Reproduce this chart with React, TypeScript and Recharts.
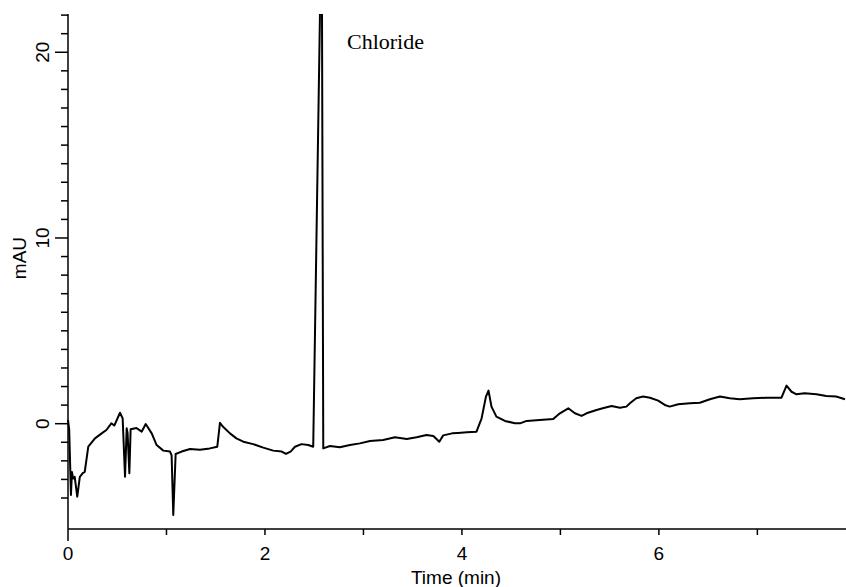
import React from 'react'
import { LineChart, Line, XAxis, YAxis, ReferenceDot } from 'recharts'

// retention time (min) and detector signal (mAU)
const times = [
  0, 0.012, 0.03, 0.04, 0.052, 0.068, 0.094, 0.12, 0.15, 0.17, 0.206, 0.274, 0.342, 0.39, 0.44, 0.47,
  0.528, 0.555, 0.579, 0.596, 0.605, 0.623, 0.636, 0.695, 0.748, 0.789, 0.85, 0.9, 0.968, 1.036, 1.052,
  1.069, 1.093, 1.154, 1.239, 1.34, 1.44, 1.516, 1.543, 1.577, 1.645, 1.71, 1.78, 1.88, 1.983, 2.084,
  2.17, 2.213, 2.26, 2.305, 2.37, 2.44, 2.49, 2.576, 2.592, 2.66, 2.76, 2.863, 2.964, 3.066, 3.2, 3.32,
  3.44, 3.54, 3.64, 3.71, 3.77, 3.81, 3.9, 3.96, 4.05, 4.148, 4.2, 4.244, 4.27, 4.3, 4.35, 4.437, 4.538,
  4.59, 4.657, 4.79, 4.927, 4.995, 5.08, 5.147, 5.215, 5.265, 5.367, 5.43, 5.52, 5.604, 5.67, 5.706,
  5.77, 5.84, 5.91, 5.993, 6.06, 6.11, 6.196, 6.315, 6.416, 6.518, 6.62, 6.72, 6.82, 6.957, 7.09, 7.245,
  7.296, 7.347, 7.398, 7.48, 7.6, 7.7, 7.8, 7.89,
]
const signal = [
  0.2, -0.3, -3.84, -2.6, -2.95, -2.86, -3.93, -2.86, -2.66, -2.6, -1.24, -0.79, -0.52, -0.34, 0.02, -0.1,
  0.59, 0.29, -2.86, -0.25, -0.5, -2.67, -0.3, -0.23, -0.43, -0.02, -0.52, -1.15, -1.45, -1.5, -1.7,
  -4.92, -1.63, -1.5, -1.36, -1.4, -1.33, -1.24, 0.05, -0.18, -0.52, -0.79, -0.97, -1.1, -1.29, -1.45,
  -1.5, -1.63, -1.5, -1.24, -1.1, -1.15, -1.24, 28, -1.33, -1.2, -1.27, -1.15, -1.06, -0.93, -0.88, -0.73,
  -0.82, -0.73, -0.61, -0.66, -0.97, -0.63, -0.52, -0.5, -0.46, -0.43, 0.29, 1.46, 1.78, 0.92, 0.38, 0.15, 0.02,
  0.02, 0.15, 0.2, 0.25, 0.56, 0.83, 0.56, 0.42, 0.56, 0.74, 0.83, 0.95, 0.86, 0.92, 1.1,
  1.37, 1.46, 1.4, 1.24, 1.01, 0.92, 1.05, 1.1, 1.13, 1.32, 1.46, 1.37, 1.32, 1.37, 1.4, 1.4,
  2.05, 1.72, 1.58, 1.64, 1.58, 1.49, 1.46, 1.32,
]

const xTicks = [0, 1, 2, 3, 4, 5, 6, 7]
const yTicks = Array.from({ length: 27 }, (_, i) => i - 4)

const peakName = 'Chloride'
const peakLabelAt = { t: 2.833, v: 20.18 }

const data = times.map((t, i) => ({ t, v: signal[i] }))

const FONT = '"Liberation Sans", Arial, sans-serif'

const XTick = ({ x, y, payload }: any) => {
  const val = payload.value
  return (
    <g>
      <line x1={x} x2={x} y1={y} y2={y + (val === 0 ? 12 : 6)} stroke="#000" strokeWidth={1.5} />
      {val % 2 === 0 && (
        <text x={x} y={y + 31} textAnchor="middle" fontSize={19} fontFamily={FONT} fill="#000">
          {val}
        </text>
      )}
    </g>
  )
}

const YTick = ({ x, y, payload }: any) => {
  const val = payload.value
  const major = val % 10 === 0
  return (
    <g>
      <line x1={x - (major ? 13 : 7)} x2={x} y1={y} y2={y} stroke="#000" strokeWidth={1.5} />
      {major && (
        <text
          x={x - 19}
          y={y}
          transform={`rotate(-90, ${x - 19}, ${y})`}
          textAnchor="middle"
          fontSize={19}
          fontFamily={FONT}
          fill="#000"
        >
          {val}
        </text>
      )}
    </g>
  )
}

export default function App() {
  return (
    <div style={{ position: 'absolute', left: 0, top: 0, background: '#fff' }}>
      <LineChart width={846} height={587} data={data} margin={{ top: 14, right: 0, bottom: 0, left: 0 }}>
        <XAxis
          dataKey="t"
          type="number"
          domain={[0, 7.9]}
          ticks={xTicks}
          interval={0}
          height={58}
          tickSize={0}
          tickMargin={0}
          tickLine={false}
          axisLine={{ stroke: '#000', strokeWidth: 1.5 }}
          tick={<XTick />}
          label={(p: any) => (
            <text
              x={p.viewBox.x + 388}
              y={p.viewBox.y + 55}
              textAnchor="middle"
              fontSize={19}
              fontFamily={FONT}
              fill="#000"
            >
              Time (min)
            </text>
          )}
        />
        <YAxis
          type="number"
          domain={[-5.67, 22.06]}
          allowDataOverflow
          ticks={yTicks}
          interval={0}
          width={68}
          tickSize={0}
          tickMargin={0}
          tickLine={false}
          axisLine={{ stroke: '#000', strokeWidth: 1.5 }}
          tick={<YTick />}
          label={(p: any) => (
            <text
              x={p.viewBox.x + 26}
              y={p.viewBox.y + 244}
              transform={`rotate(-90, ${p.viewBox.x + 26}, ${p.viewBox.y + 244})`}
              textAnchor="middle"
              fontSize={19}
              fontFamily={FONT}
              fill="#000"
            >
              mAU
            </text>
          )}
        />
        <Line
          dataKey="v"
          type="linear"
          stroke="#000"
          strokeWidth={2}
          strokeLinejoin="round"
          dot={false}
          isAnimationActive={false}
        />
        <ReferenceDot
          x={peakLabelAt.t}
          y={peakLabelAt.v}
          r={0}
          shape={(p: any) => (
            <text
              x={p.cx}
              y={p.cy}
              fontSize={22}
              fontFamily='"Liberation Serif", "Times New Roman", serif'
              fill="#000"
            >
              {peakName}
            </text>
          )}
        />
      </LineChart>
    </div>
  )
}
